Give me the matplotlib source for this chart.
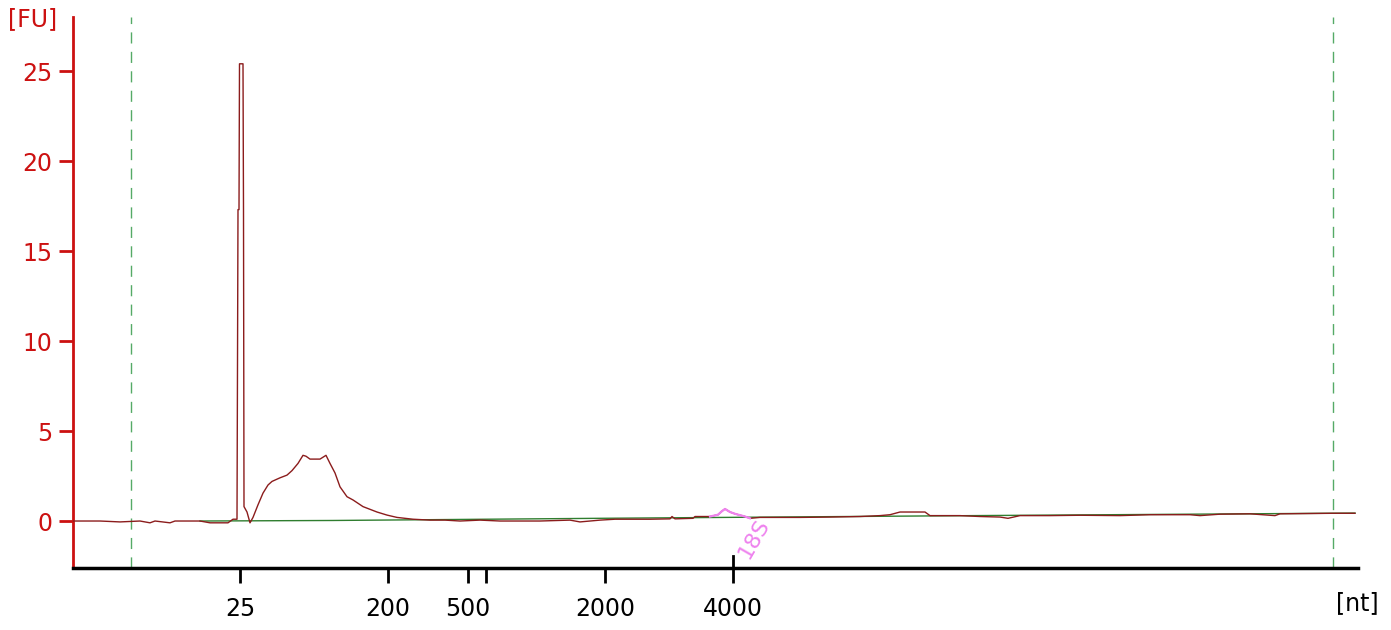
import matplotlib
matplotlib.use("Agg")
import matplotlib.pyplot as plt

plt.rcParams['font.family'] = ['DejaVu Sans']

# Migration time (s) and fluorescence (FU)
time_s = [19.00, 20.08, 20.88, 21.68, 22.08, 22.28, 22.88, 23.08, 24.08, 24.48,
          24.88, 25.20, 25.40, 25.56, 25.60, 25.64, 25.66, 25.80, 25.82, 25.84,
          25.96, 26.08, 26.20, 26.40, 26.60, 26.80, 26.96, 27.28, 27.56, 27.76,
          28.00, 28.20, 28.32, 28.48, 28.88, 29.12, 29.28, 29.48, 29.68, 29.96,
          30.20, 30.60, 31.16, 31.56, 31.96, 32.60, 33.28, 33.88, 34.48, 35.28,
          36.08, 37.68, 38.88, 39.28, 40.08, 40.68, 42.08, 42.88, 42.96, 43.08,
          43.80, 43.88, 44.48, 44.80, 44.96, 45.08, 45.28, 45.48, 45.88, 46.08,
          46.48, 48.08, 49.28, 50.48, 51.28, 51.68, 52.08, 53.08, 53.28, 54.48,
          55.28, 56.08, 56.40, 56.88, 58.08, 59.28, 60.88, 62.08, 63.68, 64.08,
          64.88, 66.08, 67.08, 67.28, 69.40, 70.28]
fu = [0.00, 0.00, -0.05, 0.00, -0.10, 0.00, -0.10, 0.00, 0.00, -0.10,
      -0.10, -0.10, 0.10, 0.10, 17.30, 17.30, 25.40, 25.40, 17.30, 0.80,
      0.50, -0.10, 0.20, 0.90, 1.55, 2.00, 2.20, 2.40, 2.55, 2.80,
      3.20, 3.65, 3.60, 3.44, 3.44, 3.65, 3.20, 2.67, 1.90, 1.35,
      1.17, 0.80, 0.50, 0.33, 0.20, 0.10, 0.05, 0.05, 0.00, 0.05,
      0.00, 0.00, 0.05, -0.05, 0.05, 0.10, 0.10, 0.12, 0.25, 0.12,
      0.15, 0.25, 0.25, 0.35, 0.55, 0.67, 0.50, 0.40, 0.25, 0.15,
      0.20, 0.20, 0.22, 0.25, 0.30, 0.35, 0.50, 0.50, 0.30, 0.30,
      0.25, 0.22, 0.15, 0.30, 0.30, 0.32, 0.30, 0.35, 0.35, 0.30,
      0.38, 0.40, 0.30, 0.40, 0.43, 0.43]

# Baseline
base_time = [24.08, 29.40, 40.00, 55.00, 70.28]
base_fu = [0.00, 0.03, 0.15, 0.30, 0.44]

# 18S marker region
s18_time = [44.48, 44.80, 44.96, 45.08, 45.28, 45.48, 45.88, 46.08]
s18_fu = [0.25, 0.35, 0.55, 0.67, 0.50, 0.40, 0.25, 0.15]

# Ladder ticks
ladder_time = [25.68, 31.60, 34.80, 35.52, 40.28, 45.40]
ladder_labels = ['25', '200', '500', '', '2000', '4000']

# Analysis window
window_time = [21.32, 69.40]

fig = plt.figure(figsize=(13.91, 6.30), dpi=100)
ax = fig.add_axes([73/1391, (630-568)/630, (1358-73)/1391, (568-17)/630])

red = '#cc1111'
ax.plot(base_time, base_fu, color='#2f7d2f', lw=1.0, zorder=2)
ax.plot(time_s, fu, color='#8b1c1c', lw=1.0, zorder=3)
ax.plot(s18_time, s18_fu, color='#ee82ee', lw=1.6, zorder=4)

for wt in window_time:
    ax.axvline(wt, color='#55aa66', lw=1.0, ls=(0, (8, 6)), zorder=1)

ax.set_xlim(19.0, 70.4)
ax.set_ylim(-2.61, 28.0)

ax.spines['top'].set_visible(False)
ax.spines['right'].set_visible(False)
ax.spines['left'].set_color(red)
ax.spines['left'].set_linewidth(2)
ax.spines['bottom'].set_color('black')
ax.spines['bottom'].set_linewidth(2.5)

ax.set_yticks([0, 5, 10, 15, 20, 25])
ax.tick_params(axis='y', colors=red, labelcolor=red, length=10, width=2,
               labelsize=17, pad=5)
ax.set_xticks(ladder_time)
ax.set_xticklabels(ladder_labels)
ax.tick_params(axis='x', colors='black', length=11, width=2, labelsize=17, pad=10)

# 4000 marker extends above the axis
ax.axvline(ladder_time[-1], ymin=0, ymax=0.021, color='black', lw=2, zorder=5)

ax.text(46.24, -1.0, '18S', color='#ee82ee', fontsize=16, rotation=60,
        ha='center', va='center', zorder=6)

fig.text(8/1391, 1 - 19/630, '[FU]', color=red, fontsize=17, ha='left', va='center')
fig.text(1336/1391, 1 - 603/630, '[nt]', color='black', fontsize=17, ha='left', va='center')

fig.savefig('out.png', dpi=100)
